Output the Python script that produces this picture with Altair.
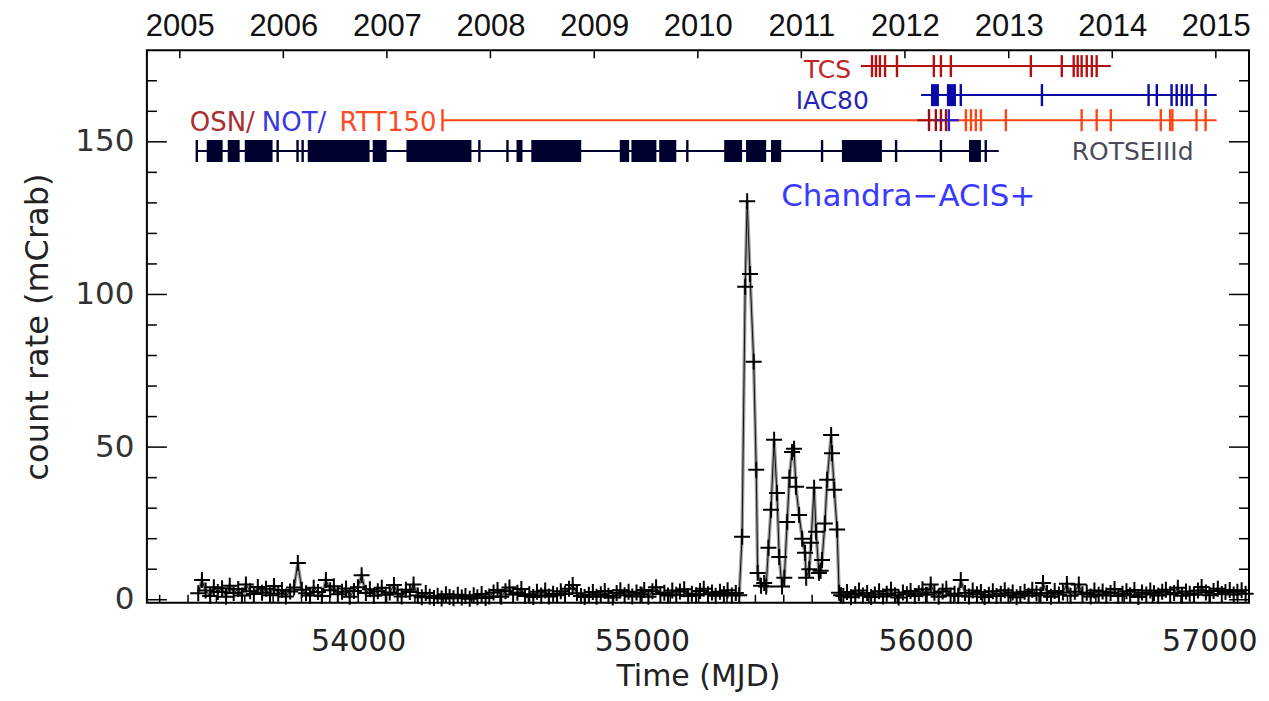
import altair as alt
import pandas as pd

# ---------------- light curve (MJD, count rate in mCrab) ----------------
pre_mjd = [
    53436, 53449, 53462, 53478, 53491, 53505, 53520, 53534, 53547, 53561,
    53577, 53590, 53604, 53619, 53632, 53646, 53661, 53675, 53689, 53703,
    53718, 53731, 53745, 53760, 53774, 53787, 53801, 53816, 53830, 53843,
    53858, 53872, 53886, 53901, 53914, 53928, 53943, 53957, 53970, 53985,
    53999, 54012, 54027, 54041, 54055, 54069, 54083, 54097, 54111, 54126,
    54139, 54153, 54168, 54182, 54195, 54210, 54224, 54238, 54252, 54267,
    54280, 54294, 54309, 54322, 54336, 54351, 54365, 54378, 54393, 54407,
    54420, 54435, 54449, 54462, 54477, 54491, 54504, 54519, 54533, 54546,
    54561, 54575, 54588, 54603, 54617, 54630, 54645, 54659, 54672, 54687,
    54701, 54714, 54729, 54743, 54756, 54771, 54785, 54798, 54813, 54827,
    54840, 54855, 54869, 54882, 54897, 54911, 54924, 54939, 54953, 54966,
    54981, 54995, 55008, 55023, 55037, 55050, 55065, 55079, 55092, 55107,
    55121, 55134, 55149, 55163, 55176, 55191, 55205, 55218, 55233, 55247,
    55260, 55275, 55289, 55302, 55317, 55331,
]
pre_rate = [
    2.1, 6.5, 3.0, 1.2, 4.1, 2.5, 3.8, 1.0, 4.6, 2.2,
    3.5, 1.4, 5.0, 2.8, 1.9, 4.2, 2.3, 3.6, 1.5, 4.5,
    2.0, 3.2, 1.1, 2.7, 4.0, 12.0, 3.3, 2.1, 1.4, 3.9,
    2.5, 1.2, 6.5, 3.1, 4.4, 1.8, 2.6, 3.7, 1.0, 2.9,
    4.1, 8.0, 2.2, 3.4, 1.3, 2.8, 3.9, 1.6, 2.4, 4.8,
    2.0, 1.1, 3.3, 2.5, 5.0, 1.4, 0.8, 2.2, 1.0, 0.6,
    1.3, 0.4, 1.8, 0.9, 0.5, 1.6, 0.7, 1.2, 0.3, 1.5,
    0.8, 1.9, 0.6, 1.1, 2.4, 3.2, 1.0, 2.8, 4.0, 1.7,
    2.3, 3.5, 1.2, 1.8, 0.9, 2.6, 1.4, 3.0, 1.1, 2.0,
    1.5, 2.8, 1.9, 3.6, 4.8, 2.1, 1.2, 0.9, 1.6, 2.5,
    1.0, 1.8, 2.9, 1.3, 0.7, 2.2, 3.1, 1.5, 2.6, 1.1,
    2.4, 1.7, 3.2, 1.0, 2.8, 4.1, 1.9, 2.3, 1.4, 3.0,
    1.6, 2.7, 3.4, 1.2, 2.0, 1.5, 2.9, 3.6, 1.8, 2.4,
    1.3, 2.6, 1.9, 3.1, 1.4, 2.2,
]
flare_mjd = [
    55343, 55353, 55364, 55371, 55381, 55394, 55403, 55408, 55420, 55431,
    55438, 55446, 55455, 55466, 55476, 55484, 55494, 55502, 55512, 55520,
    55529, 55536, 55543, 55554, 55565, 55575, 55579, 55590, 55596, 55607,
    55614, 55624, 55630, 55635, 55645, 55653, 55667, 55670, 55678, 55688,
    55695, 55702,
]
flare_rate = [
    1.5, 20.6, 102.5, 130.5, 106.7, 78.0, 42.6, 8.8, 4.6, 5.5,
    4.3, 17.0, 29.5, 52.4, 35.0, 14.0, 4.3, 7.2, 25.5, 40.0,
    48.4, 49.5, 37.0, 27.8, 20.0, 15.4, 7.2, 10.0, 18.7, 36.7,
    22.3, 8.8, 9.5, 13.0, 25.0, 39.3, 54.0, 48.0, 36.0, 23.0,
    2.3, 1.5,
]
post_mjd = [
    55710, 55723, 55737, 55752, 55765, 55779, 55794, 55808, 55821, 55836,
    55850, 55863, 55878, 55892, 55905, 55920, 55934, 55947, 55962, 55976,
    55989, 56004, 56018, 56031, 56046, 56060, 56073, 56088, 56102, 56115,
    56124, 56139, 56153, 56166, 56181, 56195, 56208, 56223, 56237, 56250,
    56265, 56279, 56292, 56307, 56321, 56334, 56349, 56363, 56376, 56391,
    56405, 56414, 56428, 56442, 56455, 56470, 56484, 56498, 56511, 56526,
    56540, 56553, 56568, 56582, 56595, 56610, 56624, 56637, 56652, 56666,
    56679, 56694, 56708, 56721, 56736, 56750, 56763, 56778, 56792, 56805,
    56820, 56834, 56847, 56862, 56876, 56889, 56904, 56918, 56931, 56946,
    56960, 56973, 56988, 57002, 57015, 57030, 57044, 57057, 57072, 57086,
    57099, 57114, 57128,
]
post_rate = [
    1.2, 2.5, 0.8, 1.9, 3.0, 1.4, 2.2, 0.9, 1.7, 2.8,
    1.1, 2.0, 3.3, 1.5, 0.7, 2.4, 1.8, 2.9, 1.2, 2.1,
    3.4, 1.6, 5.0, 2.3, 1.0, 2.7, 3.6, 1.4, 2.0, 1.3,
    6.5, 2.2, 1.1, 3.0, 1.8, 2.5, 0.9, 1.6, 2.8, 1.2,
    2.0, 3.1, 1.4, 2.4, 0.8, 1.9, 2.6, 1.3, 3.3, 2.1,
    1.5, 5.5, 2.2, 1.0, 2.9, 1.7, 2.4, 5.2, 1.3, 2.6,
    5.0, 1.8, 2.3, 1.1, 3.0, 1.6, 2.7, 1.4, 2.2, 3.5,
    1.2, 2.0, 2.8, 1.5, 3.2, 0.9, 2.4, 1.7, 3.0, 2.1,
    1.4, 2.6, 3.3, 1.8, 2.2, 3.9, 1.3, 2.7, 2.0, 1.6,
    3.0, 4.2, 2.4, 1.5, 2.9, 3.6, 1.9, 2.5, 3.2, 1.7,
    2.6, 3.1, 2.0,
]

# ---------------- optical monitoring campaigns ----------------
instruments = ["TCS", "IAC80", "RTT150", "OSN", "NOT", "ROTSEIIId"]
inst_level = [174.8, 165.3, 157.1, 157.1, 157.1, 147.0]   # mCrab level of each row
inst_start = [55772, 55984, 54297, 55970, 56036, 53431]
inst_end = [56653, 57026, 57026, 56117, 56117, 56258]
inst_colors = ["#b41010", "#0a0aa8", "#ff4514", "#a00c0c", "#2020f0", "#00002e"]

tcs_obs = [55811, 55825, 55839, 55857, 55899, 56029, 56054, 56089, 56371, 56480,
           56522, 56536, 56550, 56568, 56586, 56603]
iac80_obs = [56124, 56410, 56786, 56815, 56867, 56885, 56903, 56920, 56938, 56987]
iac80_block_start = [56019, 56075]
iac80_block_end = [56047, 56107]
osn_obs = [56012, 56036, 56054, 56072]
not_obs = [56082]
rtt150_obs = [54297, 56142, 56160, 56177, 56195, 56283, 56550, 56603, 56653, 56829,
              56862, 56870, 56955, 56987]
rotse_obs = [53431, 53716, 53786, 53804, 54427, 54526, 55160, 55635, 55896, 56054, 56212]
rotse_block_start = [53466, 53540, 53600, 53822, 54051, 54170, 54558, 54610, 54922,
                     54963, 55061, 55290, 55367, 55455, 55705, 56153]
rotse_block_end = [53522, 53582, 53698, 54040, 54100, 54399, 54579, 54786, 54955,
                   55051, 55121, 55353, 55438, 55491, 55846, 56195]

# ---------------- labels ----------------
label_text = ["TCS", "IAC80", "OSN/", "NOT/", "RTT150", "ROTSEIIId", "Chandra\u2212ACIS+"]
label_key = ["TCS", "IAC80", "OSN", "NOT", "RTT150", "ROTSEIIId", "Chandra"]
label_mjd = [55737, 55800, 53406, 53660, 54276, 56515, 55491]
label_level = [173.5, 163.3, 156.1, 156.1, 156.1, 146.6, 132.0]
label_align = ["right", "right", "left", "left", "right", "left", "left"]
label_size = [25, 25, 26, 26, 26, 25, 31]
label_keys_all = ["TCS", "IAC80", "OSN", "NOT", "RTT150", "ROTSEIIId", "Chandra"]
label_colors = ["#c02424", "#2626b4", "#a83030", "#3838e0", "#ff4a26", "#4a4a58", "#3a3aff"]

# ---------------- axes ----------------
X_DOMAIN = [53255, 57140]
Y_DOMAIN = [-1, 180]
x_major = [54000, 55000, 56000, 57000]
x_minor = [53300, 53400, 53500, 53600, 53700, 53800, 53900,
           54100, 54200, 54300, 54400, 54500, 54600, 54700, 54800, 54900,
           55100, 55200, 55300, 55400, 55500, 55600, 55700, 55800, 55900,
           56100, 56200, 56300, 56400, 56500, 56600, 56700, 56800, 56900,
           57100]
y_major = [0, 50, 100, 150]
y_minor = [10, 20, 30, 40, 60, 70, 80, 90, 110, 120, 130, 140, 160, 170]
year_mjd = [53371, 53736, 54101, 54466, 54832, 55197, 55562, 55927, 56293, 56658, 57023]
year_label = ["2005", "2006", "2007", "2008", "2009", "2010", "2011", "2012", "2013", "2014", "2015"]

W, H = 1103, 553
FONT = "DejaVu Sans"

xs = alt.Scale(domain=X_DOMAIN, nice=False, zero=False)
ys = alt.Scale(domain=Y_DOMAIN, nice=False, zero=False)

lc = pd.DataFrame({"mjd": pre_mjd + flare_mjd + post_mjd,
                   "rate": pre_rate + flare_rate + post_rate})

bottom_axis = alt.Axis(values=x_major, format="d", title="Time (MJD)", tickSize=0,
                       domain=False, grid=False, labelPadding=24, titlePadding=5,
                       labelFontSize=30, titleFontSize=30, labelColor="#222",
                       titleColor="#222", labelFont=FONT, titleFont=FONT,
                       titleFontWeight="normal")
left_axis = alt.Axis(values=y_major, title="count rate (mCrab)", tickSize=0, domain=False,
                     grid=False, labelPadding=13, titlePadding=20, labelFontSize=31,
                     titleFontSize=32, labelColor="#333", titleColor="#222",
                     labelFont=FONT, titleFont=FONT, titleFontWeight="normal")

gray_line = alt.Chart(lc).mark_line(color="#a0a0a0", strokeWidth=3.5).encode(
    x=alt.X("mjd:Q", scale=xs, axis=bottom_axis),
    y=alt.Y("rate:Q", scale=ys, axis=left_axis),
)
black_line = alt.Chart(lc).mark_line(color="#111", strokeWidth=1.0).encode(
    x=alt.X("mjd:Q", scale=xs, axis=None),
    y=alt.Y("rate:Q", scale=ys, axis=None),
)
crosses = alt.Chart(lc).mark_point(shape="M-1,0L1,0M0,-1L0,1", size=256, filled=False,
                                   color="black", strokeWidth=2.0, opacity=1).encode(
    x=alt.X("mjd:Q", scale=xs, axis=None),
    y=alt.Y("rate:Q", scale=ys, axis=None),
)

inst_color = alt.Color("inst:N", scale=alt.Scale(domain=instruments, range=inst_colors), legend=None)
lvl = dict(zip(instruments, inst_level))

rows_df = pd.DataFrame({"inst": instruments, "start": inst_start, "end": inst_end,
                        "level": inst_level})
row_lines = alt.Chart(rows_df).mark_rule(strokeWidth=2, opacity=1).encode(
    x=alt.X("start:Q", scale=xs, axis=None), x2="end:Q",
    y=alt.Y("level:Q", scale=ys, axis=None), color=inst_color,
)

obs_parts = []
for name, obs in [("RTT150", rtt150_obs), ("OSN", osn_obs), ("NOT", not_obs),
                  ("TCS", tcs_obs), ("IAC80", iac80_obs), ("ROTSEIIId", rotse_obs)]:
    obs_parts.append(pd.DataFrame({"inst": name, "mjd": obs, "level": lvl[name]}))
obs_df = pd.concat(obs_parts, ignore_index=True)
obs_ticks = alt.Chart(obs_df).mark_tick(orient="vertical", size=22, thickness=2.4, opacity=1).encode(
    x=alt.X("mjd:Q", scale=xs, axis=None),
    y=alt.Y("level:Q", scale=ys, axis=None), color=inst_color,
)

blk_df = pd.concat([
    pd.DataFrame({"inst": "IAC80", "start": iac80_block_start, "end": iac80_block_end,
                  "level": lvl["IAC80"]}),
    pd.DataFrame({"inst": "ROTSEIIId", "start": rotse_block_start, "end": rotse_block_end,
                  "level": lvl["ROTSEIIId"]}),
], ignore_index=True)
blocks = alt.Chart(blk_df).mark_rule(strokeWidth=22, strokeCap="butt", opacity=1).encode(
    x=alt.X("start:Q", scale=xs, axis=None), x2="end:Q",
    y=alt.Y("level:Q", scale=ys, axis=None), color=inst_color,
)

lab_df = pd.DataFrame({"text": label_text, "key": label_key, "mjd": label_mjd,
                       "level": label_level, "align": label_align, "fs": label_size})
lab_color = alt.Color("key:N", scale=alt.Scale(domain=label_keys_all, range=label_colors), legend=None)
labels = []
for al in ["left", "right"]:
    sub = lab_df[lab_df["align"] == al]
    labels.append(alt.Chart(sub).mark_text(align=al, baseline="middle", font=FONT).encode(
        x=alt.X("mjd:Q", scale=xs, axis=None), y=alt.Y("level:Q", scale=ys, axis=None),
        text="text:N", color=lab_color, size=alt.Size("fs:Q", scale=None, legend=None)))

# inward ticks on all four sides
def yticks(vals, length):
    d = pd.DataFrame({"v": vals})
    left = alt.Chart(d).mark_rule(color="black", strokeWidth=1.5).encode(
        y=alt.Y("v:Q", scale=ys, axis=None), x=alt.value(0), x2=alt.value(length))
    right = alt.Chart(d).mark_rule(color="black", strokeWidth=1.5).encode(
        y=alt.Y("v:Q", scale=ys, axis=None), x=alt.value(W), x2=alt.value(W - length))
    return [left, right]

def xticks(vals, length):
    d = pd.DataFrame({"v": vals})
    return [alt.Chart(d).mark_rule(color="black", strokeWidth=1.5).encode(
        x=alt.X("v:Q", scale=xs, axis=None), y=alt.value(H), y2=alt.value(H - length))]

year_expr = "''"
for m, lab in reversed(list(zip(year_mjd, year_label))):
    year_expr = f"datum.value == {m} ? '{lab}' : ({year_expr})"

top_axis = alt.Axis(orient="top", values=year_mjd, labelExpr=year_expr, tickSize=0,
                    domain=False, grid=False, title=None, labelPadding=8,
                    labelFontSize=31, labelColor="#111", labelFont="Liberation Sans")
year_ticks = alt.Chart(pd.DataFrame({"v": year_mjd})).mark_rule(color="black", strokeWidth=1.5).encode(
    x=alt.X("v:Q", scale=xs, axis=top_axis), y=alt.value(0), y2=alt.value(8))

layers = [gray_line, black_line, crosses, row_lines, blocks, obs_ticks] + labels \
    + yticks(y_major, 20) + yticks(y_minor, 10) + xticks(x_major, 16) + xticks(x_minor, 8) \
    + [year_ticks]

chart = alt.layer(*layers).resolve_axis(x="independent", y="independent").resolve_scale(
    color="independent"
).properties(
    width=W, height=H,
    autosize=alt.AutoSizeParams(type="none"),
    padding={"left": 139, "top": 42, "right": 12, "bottom": 90},
    background="white",
).configure_view(stroke="black", strokeWidth=2)

chart.save("out.html", embed_options={"renderer": "svg", "actions": False})
